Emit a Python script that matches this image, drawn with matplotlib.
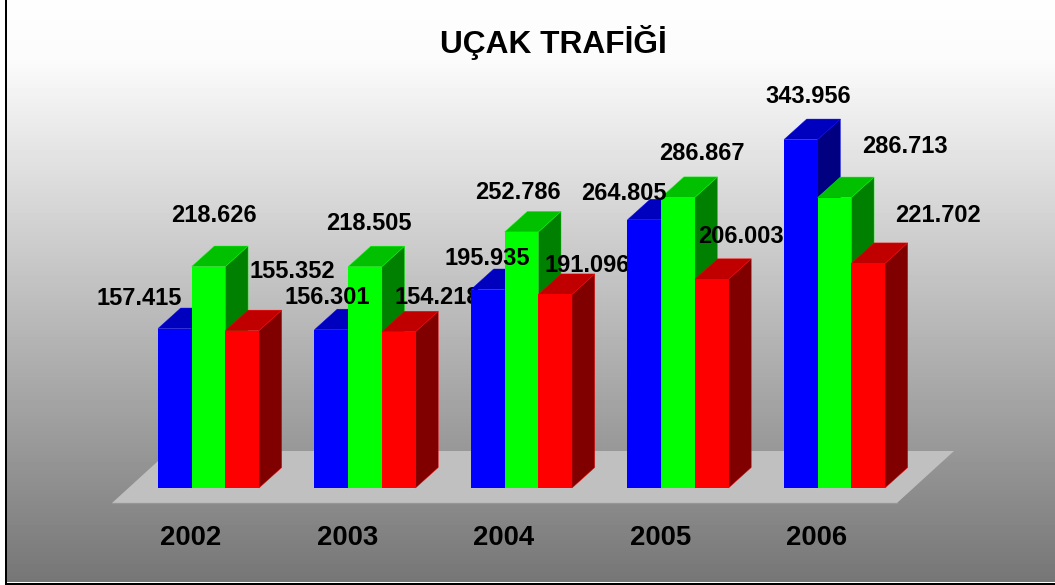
import numpy as np
import matplotlib
matplotlib.use("Agg")
import matplotlib.pyplot as plt
from matplotlib.patches import Polygon

title = "UÇAK TRAFİĞİ"
years = ["2002", "2003", "2004", "2005", "2006"]
blue_values = [157415, 156301, 195935, 264805, 343956]
green_values = [218626, 218505, 252786, 286867, 286713]
red_values = [155352, 154218, 191096, 206003, 221702]

W, H = 1055, 585
PITCH = 156.5
PX_PER_UNIT = 0.001013
BASE_Y = 488.0
FIRST_CENTER = 208.5
BAR_W = 33.67 / PITCH
DX = 22.7 / PITCH
DY = 20.5 / PX_PER_UNIT

# label offsets in pixels from the front-top centre of each bar (x right, y down)
blue_off = [(-36, -30.5), (-4.5, -31.7), (-1, -31.5), (-20.5, -26.7), (7, -42.6)]
green_off = [(5.5, -51.5), (4, -42.7), (-3.5, -39), (24, -44.4), (70.5, -50.6)]
red_off = [(50, -59.6), (38.5, -33.8), (32, -29.4), (29.5, -43.3), (70, -48.4)]

series = [
    (blue_values, "#0000FF", "#0000BF", "#000080", blue_off),
    (green_values, "#00FF00", "#00C000", "#008000", green_off),
    (red_values, "#FF0000", "#C00000", "#800000", red_off),
]

plt.rcParams["font.family"] = ["Liberation Sans", "DejaVu Sans"]
fig = plt.figure(figsize=(W / 100, H / 100), dpi=100, facecolor="white")
ax = fig.add_axes([0, 0, 1, 1])
xlim = (-FIRST_CENTER / PITCH, (W - FIRST_CENTER) / PITCH)
ylim = (-(H - BASE_Y) / PX_PER_UNIT, BASE_Y / PX_PER_UNIT)
ax.axis("off")


def px_x(p):
    return (p - FIRST_CENTER) / PITCH


def px_y(p):
    return (BASE_Y - p) / PX_PER_UNIT


# background gradient, white margin left of and below it
rows = np.arange(582)
grey = np.interp(rows, [0, 60, 581], [254, 251, 118]) / 255
ax.imshow(grey[:, None], cmap="gray", vmin=0, vmax=1, aspect="auto",
          interpolation="nearest",
          extent=(px_x(7), px_x(W), px_y(582), px_y(0)), origin="upper", zorder=0)
ax.set_xlim(*xlim)
ax.set_ylim(*ylim)

# floor
fy0, fy1 = px_y(503), px_y(451)
ax.add_patch(Polygon([(px_x(112), fy0), (px_x(897), fy0), (px_x(954), fy1), (px_x(169), fy1)],
                     closed=True, fc="#C0C0C0", ec="none", zorder=1))
ax.plot([px_x(112), px_x(897)], [fy0, fy0], color="#969696", lw=0.9, zorder=1.1)

x = np.arange(len(years))
# each year is drawn as a unit (bars, then its labels), so later bars can cover earlier labels
for g, xi in enumerate(x):
    base = 10 * (g + 1)
    for s, (vals, front, top, side, offs) in enumerate(series):
        cx = xi + (s - 1) * BAR_W
        v = vals[g]
        l, r = cx - BAR_W / 2, cx + BAR_W / 2
        ax.add_patch(Polygon([(r, 0), (r + DX, DY), (r + DX, v + DY), (r, v)],
                             closed=True, fc=side, ec=front, lw=0.3, zorder=base + s))
        ax.add_patch(Polygon([(l, v), (r, v), (r + DX, v + DY), (l + DX, v + DY)],
                             closed=True, fc=top, ec=front, lw=0.3, zorder=base + s))
        ax.bar(cx, v, width=BAR_W, color=front, linewidth=0, zorder=base + s + 0.5)
        ax.annotate(f"{v / 1000:.3f}", (cx, v),
                    xytext=(offs[g][0] * 0.72, -offs[g][1] * 0.72),
                    textcoords="offset points", ha="center", va="center",
                    fontsize=17, fontweight="bold", color="black", zorder=base + 9)

# category labels
for xi, lab in zip(x, years):
    ax.annotate(lab, (xi, 0), xytext=(-17.5 * 0.72, -50 * 0.72), textcoords="offset points",
                ha="center", va="center", fontsize=19.8, fontweight="bold", color="black", zorder=90)

fig.text(553.5 / W, 1 - 43 / H, title, ha="center", va="center",
         fontsize=22.8, fontweight="bold", color="black")

# frame
fig.add_artist(plt.Line2D([6 / W, 6 / W], [1.5 / H, 1], color="black", lw=1.44))
fig.add_artist(plt.Line2D([6 / W, 1], [1.5 / H, 1.5 / H], color="black", lw=1.44))

fig.savefig("out.png", dpi=100)
